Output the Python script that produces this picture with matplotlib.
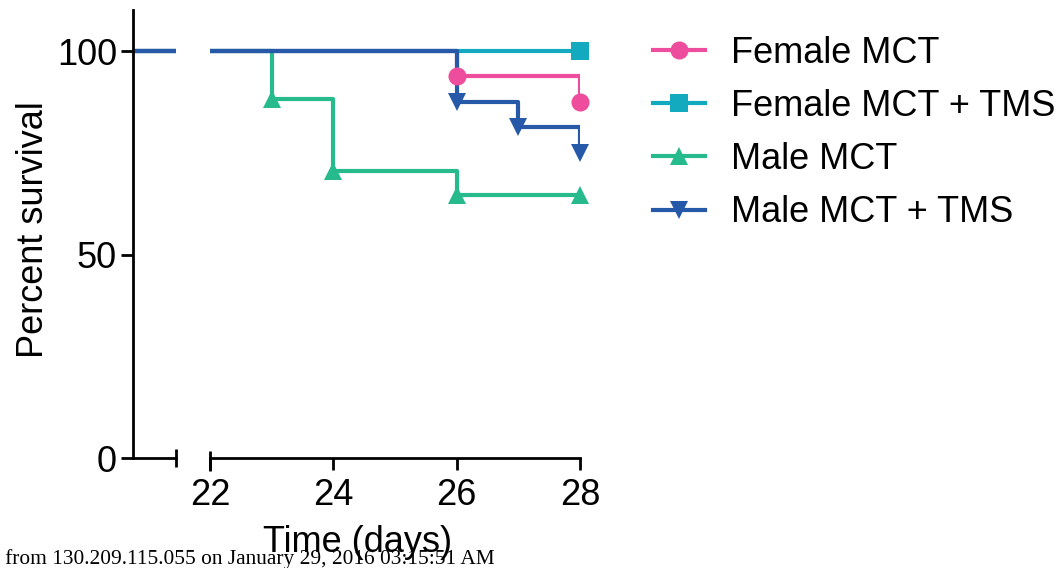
import matplotlib
matplotlib.use("Agg")
import matplotlib.pyplot as plt
from matplotlib.lines import Line2D

plt.rcParams['font.family'] = ['Liberation Sans', 'DejaVu Sans']

# ---- data ----
series_names = ["Female MCT", "Female MCT + TMS", "Male MCT", "Male MCT + TMS"]
female_mct_t = [0, 26, 28]
female_mct_s = [100, 93.75, 87.5]
female_mct_mk = [26, 28]
female_tms_t = [0, 28]
female_tms_s = [100, 100]
female_tms_mk = [28]
male_mct_t = [0, 23, 24, 26, 28]
male_mct_s = [100, 88.24, 70.59, 64.71, 64.71]
male_mct_mk = [23, 24, 26, 28]
male_tms_t = [0, 26, 27, 28]
male_tms_s = [100, 87.5, 81.25, 75]
male_tms_mk = [26, 27, 28]
x_ticks = [22, 24, 26, 28]
y_ticks = [0, 50, 100]

colors = ["#EE4C9C", "#13AABF", "#27BA8D", "#265AA8"]
markers = ["o", "s", "^", "v"]
data = [
    (female_mct_t, female_mct_s, female_mct_mk),
    (female_tms_t, female_tms_s, female_tms_mk),
    (male_mct_t, male_mct_s, male_mct_mk),
    (male_tms_t, male_tms_s, male_tms_mk),
]

W, H = 1062, 568
fig = plt.figure(figsize=(W / 100, H / 100), dpi=100)

y0_px, ytop_px = 458, 10.3
bottom = 1 - y0_px / H
height = (y0_px - ytop_px) / H
axL = fig.add_axes([133 / W, bottom, (176 - 133) / W, height])
axR = fig.add_axes([210 / W, bottom, (580 - 210) / W, height])

FS = 26
lw = 3.0
ms = 13
for ax in (axL, axR):
    for (t, s, mk), c, m in zip(data, colors, markers):
        ax.step(t, s, where="post", color=c, lw=lw, solid_capstyle="butt")
        mk_s = [s[t.index(v)] for v in mk]
        if ax is axR:
            ax.plot(mk, mk_s, ls="none", marker=m, color=c, ms=ms,
                    markeredgewidth=0, clip_on=False, zorder=3)
    ax.set_ylim(0, 110)
    for side in ("top", "right"):
        ax.spines[side].set_visible(False)
    ax.spines["bottom"].set_linewidth(2)
    ax.spines["left"].set_linewidth(2)
    ax.tick_params(width=2, length=8.5, labelsize=FS, colors="black", direction="out")

axL.set_xlim(0, 20)
axL.set_xticks([20])
axL.set_xticklabels([""])
axL.tick_params(axis="x", direction="inout", length=13)
axL.set_yticks(y_ticks)
axL.tick_params(axis="y", pad=3)

axR.set_xlim(22, 28)
axR.set_xticks(x_ticks)
axR.tick_params(axis="x", pad=6)
axR.spines["left"].set_visible(False)
axR.set_yticks([])
# break bar at start of right segment
axR.plot([22, 22], [-0.03, 0.015], transform=axR.get_xaxis_transform(),
         color="black", lw=2, clip_on=False, solid_capstyle="butt")

fig.text(358 / W, 1 - 552 / H, "Time (days)", ha="center", va="baseline", fontsize=FS)
fig.text(34 / W, 1 - 230 / H, "Percent survival", ha="center", va="center",
         rotation=90, fontsize=FS)

handles = [Line2D([], [], color=c, lw=lw, marker=m, ms=ms, markeredgewidth=0)
           for c, m in zip(colors, markers)]
fig.legend(handles, series_names, loc="upper left", bbox_to_anchor=(653 / W, 1 - 36 / H),
           frameon=False, fontsize=FS, handlelength=1.45, handletextpad=0.72,
           labelspacing=0.5, borderpad=0, borderaxespad=0)

fig.text(495 / W, 1 - 564 / H, "d from 130.209.115.055 on January 29, 2016 03:15:51 AM",
         ha="right", va="baseline", fontsize=15.4, family="Liberation Serif")

fig.savefig("out.png", dpi=100)
